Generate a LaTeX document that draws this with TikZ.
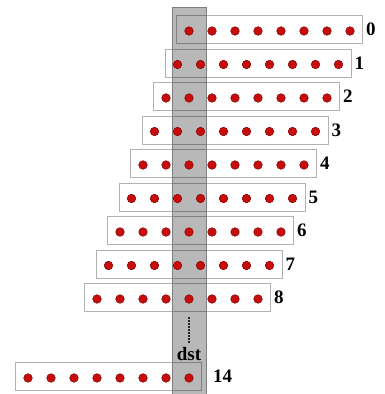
\documentclass[tikz,border=0pt]{standalone}
\usepackage{fontspec}
\setmainfont{Liberation Serif}
\definecolor{dotred}{RGB}{200,12,12}
\begin{document}
\begin{tikzpicture}[x=1pt,y=-1pt,
  rowbox/.style={draw=black!30, line width=0.8pt, minimum width=186pt, minimum height=28pt, inner sep=0pt},
  reddot/.style={circle, fill=dotred, draw=dotred!65!black, line width=0.5pt, minimum size=8.6pt, inner sep=0pt},
  lbl/.style={font=\fontsize{19}{22}\selectfont\bfseries, anchor=west, inner sep=0pt},
  colbox/.style={fill=black, fill opacity=0.28, draw=black!50, draw opacity=1, line width=0.8pt, minimum width=34pt, minimum height=392pt, inner sep=0pt, anchor=north}]
\useasboundingbox (0,0) rectangle (385,394);
\fill[white] (0,0) rectangle (385,394);
\foreach \k in {0,...,8} {
  \pgfmathsetmacro\fx{189-11.5*\k}
  \pgfmathsetmacro\yy{31+33.5*\k}
  \node[rowbox] (r\k) at (\fx+80.5,\yy-1.5) {};
  \node[lbl] (l\k) at ([xshift=3pt]r\k.east) {\k};
}
\node[rowbox] (r14) at (108.5,376.5) {};
\node[lbl] (l14) at ([xshift=11pt]r14.east) {14};
\node[colbox] (col) at (189,7) {};
\foreach \k in {0,...,8} {
  \pgfmathsetmacro\fx{189-11.5*\k}
  \pgfmathsetmacro\yy{31+33.5*\k}
  \foreach \j in {0,...,7} {
    \node[reddot] (d\k-\j) at (\fx+23*\j,\yy) {};
  }
}
\foreach \j in {0,...,7} {
  \node[reddot] (d14-\j) at (28+23*\j,378) {};
}
\coordinate (gapTop) at (189,317);
\coordinate (gapBot) at (189,343);
\draw[line width=1.6pt, black!85, dash pattern=on 1.6pt off 1.4pt] (gapTop) -- (gapBot);
\node[font=\fontsize{19}{22}\selectfont\bfseries, inner sep=0pt] (dst) at (189,354) {dst};
\end{tikzpicture}
\end{document}
